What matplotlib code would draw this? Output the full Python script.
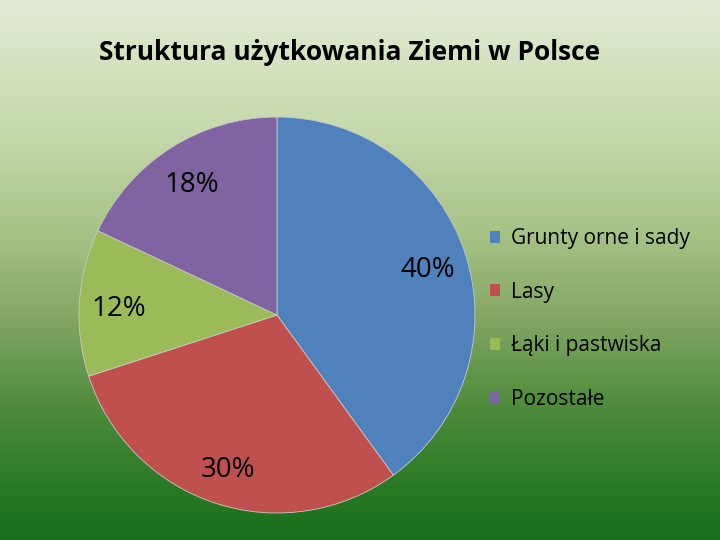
import numpy as np
import matplotlib
matplotlib.use('Agg')
import matplotlib.pyplot as plt
from matplotlib.colors import LinearSegmentedColormap
from matplotlib.patches import Patch

plt.rcParams['font.family'] = ['Open Sans', 'DejaVu Sans']

# data
categories = ['Grunty orne i sady', 'Lasy', 'Łąki i pastwiska', 'Pozostałe']
shares = [40, 30, 12, 18]
colors = ['#4F81BD', '#C0504D', '#9BBB59', '#8064A2']
title = 'Struktura użytkowania Ziemi w Polsce'

fig = plt.figure(figsize=(7.2, 5.4), dpi=100)

# background gradient, light on top to dark green at the bottom
bg = fig.add_axes([0, 0, 1, 1], zorder=0)
bg_cmap = LinearSegmentedColormap.from_list('bg', [
    (0.0, '#196e19'),
    (0.12, '#2e7d28'),
    (0.25, '#4f8c3c'),
    (0.42, '#86a865'),
    (0.55, '#a3c082'),
    (0.75, '#c5d8aa'),
    (1.0, '#e2ebd4'),
])
grad = np.linspace(0, 1, 256).reshape(-1, 1)
bg.imshow(grad, aspect='auto', cmap=bg_cmap, origin='lower', extent=[0, 1, 0, 1])
bg.axis('off')

# pie
ax = fig.add_axes([0.1097, 0.05, 0.55, 0.7333], zorder=1)
ax.patch.set_alpha(0)
wedges, texts, autotexts = ax.pie(
    shares, colors=colors, startangle=90, counterclock=False,
    autopct='%d%%', pctdistance=0.8, radius=1,
    wedgeprops=dict(edgecolor='#c8c8c8', linewidth=0.6),
    textprops=dict(fontsize=20, color='black'))
for t in autotexts:
    x, y = t.get_position()
    t.set_position((x, y - 0.02))
ax.set_xlim(-1, 1)
ax.set_ylim(-1, 1)
ax.set_aspect('equal')
ax.axis('off')

fig.text(350 / 720, 1 - 53 / 540, title, ha='center', va='center',
         fontsize=19, fontweight='bold', zorder=2)

handles = [Patch(facecolor=c, edgecolor='none') for c in colors]
leg = fig.legend(handles, categories, loc='upper left',
                 bbox_to_anchor=(490 / 720, 1 - 228 / 540),
                 frameon=False, fontsize=15, handlelength=0.5, handleheight=0.5,
                 handletextpad=0.5, labelspacing=1.56, borderpad=0, borderaxespad=0)
leg.set_zorder(3)

fig.savefig('out.png', dpi=100)
